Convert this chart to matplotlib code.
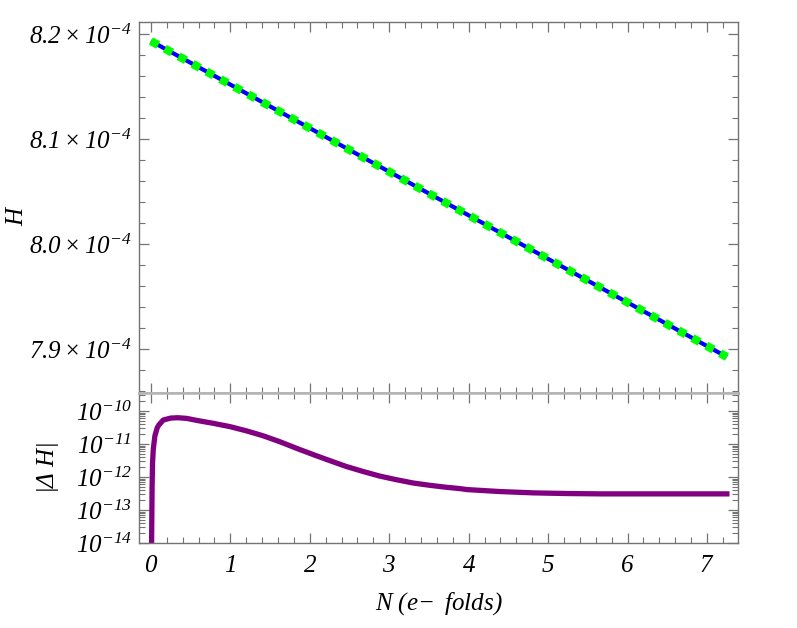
import numpy as np
import matplotlib
matplotlib.use("Agg")
import matplotlib.pyplot as plt
from matplotlib.ticker import MultipleLocator, FixedLocator, LogLocator, NullFormatter

plt.rcParams['font.family'] = ['Liberation Serif', 'DejaVu Serif']
plt.rcParams['mathtext.fontset'] = 'custom'
plt.rcParams['mathtext.rm'] = 'Liberation Serif:italic'
plt.rcParams['mathtext.it'] = 'Liberation Serif:italic'
plt.rcParams['mathtext.default'] = 'it'

# Hubble parameter vs e-folds
n_h = [0.0, 1.0, 2.0, 3.0, 4.0, 5.0, 6.0, 7.0, 7.25]
h_vals = [8.1933e-4, 8.1518e-4, 8.1103e-4, 8.0688e-4, 8.0273e-4,
          7.9858e-4, 7.9443e-4, 7.9028e-4, 7.8924e-4]

# |Delta H| vs e-folds, read as log10 values
n_dh = [0.0, 0.005, 0.01, 0.015, 0.02, 0.03, 0.05, 0.08, 0.1, 0.155, 0.25, 0.34,
        0.45, 0.575, 0.785, 0.995, 1.205, 1.415, 1.625, 1.835, 2.045, 2.25,
        2.46, 2.67, 2.88, 3.09, 3.30, 3.51, 3.72, 3.89, 3.98, 4.4, 4.82,
        5.25, 5.66, 6.2, 6.7, 7.25]
log_dh = [-16.0, -15.0, -13.6, -12.3, -11.6, -11.15, -10.75, -10.5, -10.42,
          -10.27, -10.21, -10.2, -10.22, -10.28, -10.37, -10.47, -10.6, -10.75,
          -10.93, -11.13, -11.32, -11.5, -11.68, -11.83, -11.97, -12.08, -12.18,
          -12.25, -12.31, -12.35, -12.38, -12.44, -12.48, -12.5, -12.51, -12.51,
          -12.51, -12.51]
dh_vals = [10.0 ** v for v in log_dh]

W, Hpx = 797, 628
fig = plt.figure(figsize=(W / 100, Hpx / 100), dpi=100)
left, right = 139 / W, 738 / W
ax1 = fig.add_axes([left, 1 - 393 / Hpx, right - left, (393 - 22) / Hpx])
ax2 = fig.add_axes([left, 1 - 543 / Hpx, right - left, (543 - 393) / Hpx])

frame = '0.45'
for ax in (ax1, ax2):
    ax.set_xlim(-0.15, 7.39)
    ax.xaxis.set_major_locator(MultipleLocator(1))
    ax.xaxis.set_minor_locator(MultipleLocator(0.2))
    ax.tick_params(which='both', direction='in', top=True, right=True,
                   color=frame)
    ax.tick_params(which='major', length=7, width=0.9)
    ax.tick_params(which='minor', length=4, width=0.8)
    for sp in ax.spines.values():
        sp.set_color(frame)
        sp.set_linewidth(1.0)

# top panel
ax1.plot(n_h, h_vals, color='#0000ff', lw=3, solid_capstyle='butt')
ax1.plot(n_h, h_vals, color='#00ff00', lw=6, linestyle=(0, (1.0, 0.9)))
ax1.set_ylim(7.8581e-4, 8.2114e-4)
ax1.yaxis.set_major_locator(FixedLocator([7.9e-4, 8.0e-4, 8.1e-4, 8.2e-4]))
ax1.yaxis.set_minor_locator(MultipleLocator(2e-6))
ax1.set_yticklabels([r'$7.9\times10^{-4}$', r'$8.0\times10^{-4}$',
                     r'$8.1\times10^{-4}$', r'$8.2\times10^{-4}$'])
ax1.tick_params(axis='x', labelbottom=False)
ax1.tick_params(axis='y', labelsize=18, pad=5)
ax1.set_ylabel(r'$H$', fontsize=18)
ax1.yaxis.set_label_coords(-0.185, 0.48)
ax1.spines['bottom'].set_color('0.7')
ax1.spines['bottom'].set_linewidth(1.8)

# bottom panel
ax2.plot(n_dh, dh_vals, color='#800080', lw=3.8)
ax2.set_yscale('log')
ax2.set_ylim(1e-14, 10 ** -9.45)
ax2.yaxis.set_major_locator(FixedLocator([1e-14, 1e-13, 1e-12, 1e-11, 1e-10]))
ax2.yaxis.set_minor_locator(LogLocator(base=10, subs=np.arange(2, 10), numticks=20))
ax2.yaxis.set_minor_formatter(NullFormatter())
ax2.set_yticklabels([r'$10^{-14}$', r'$10^{-13}$', r'$10^{-12}$',
                     r'$10^{-11}$', r'$10^{-10}$'])
ax2.tick_params(axis='y', labelsize=18, pad=5)
ax2.set_xticklabels([r'$%d$' % v for v in range(-1, 9)])
ax2.tick_params(axis='x', labelsize=18, pad=9)
ax2.set_xlim(-0.15, 7.39)
ax2.set_ylabel(r'$|\Delta\ H|$', fontsize=18)
ax2.yaxis.set_label_coords(-0.13, 0.5)
ax2.set_xlabel(r'$N\ (e\!-\ folds)$', fontsize=18, labelpad=9)
ax2.spines['top'].set_color('0.7')
ax2.spines['top'].set_linewidth(1.8)

fig.savefig('out.png', dpi=100)
